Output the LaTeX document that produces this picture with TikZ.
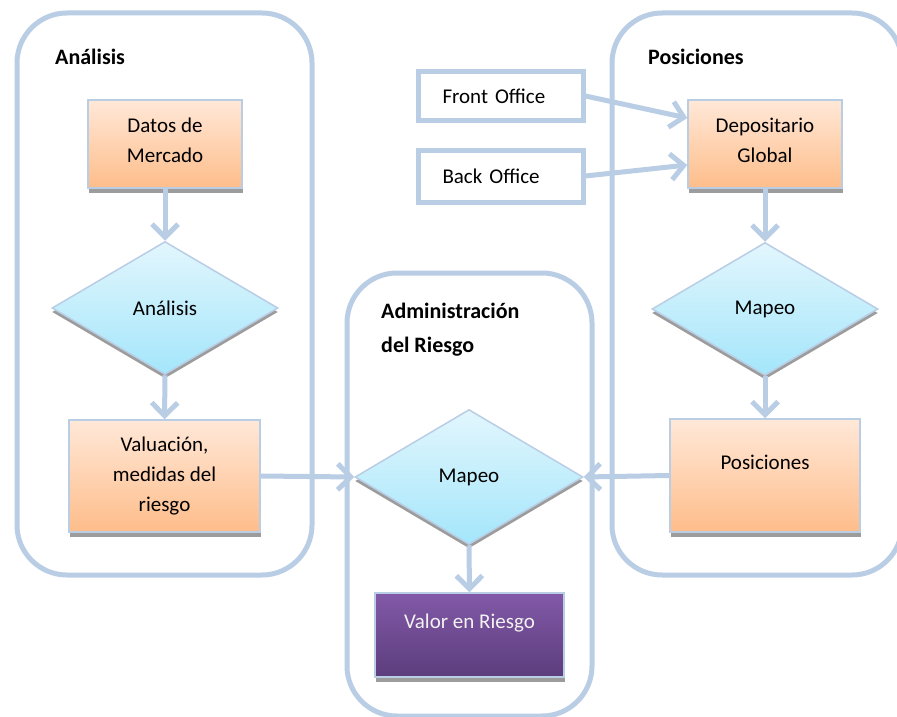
\documentclass[tikz,border=0pt]{standalone}
\usepackage{fontspec}
\setmainfont{Carlito}
\usetikzlibrary{shapes.geometric,arrows.meta,shadows,calc}
\definecolor{frame}{HTML}{B9CDE5}
\definecolor{peachtop}{HTML}{FFE8D8}
\definecolor{peachbot}{HTML}{FEBD8A}
\definecolor{cyantop}{HTML}{E2F6FD}
\definecolor{cyanbot}{HTML}{A4E6FB}
\definecolor{purptop}{HTML}{8259A8}
\definecolor{purpbot}{HTML}{5C3D7C}
\definecolor{shadowgray}{HTML}{9C9C9C}
\begin{document}
\begin{tikzpicture}[x=1pt,y=-1pt,
  font=\fontsize{21}{30}\selectfont,
  container/.style={draw=frame, line width=5pt, rounded corners=50pt},
  procbox/.style={rectangle, draw=frame, line width=1.5pt, top color=peachtop, bottom color=peachbot,
    drop shadow={shadow xshift=1pt, shadow yshift=-5pt, fill=shadowgray, opacity=1},
    inner sep=0pt, align=center},
  dia/.style={diamond, draw=frame, line width=1.5pt, top color=cyantop, bottom color=cyanbot,
    drop shadow={shadow xshift=0pt, shadow yshift=-4pt, fill=shadowgray, opacity=1},
    inner sep=0pt},
  srcbox/.style={rectangle, draw=frame, line width=5pt, fill=white, inner sep=0pt,
    text width=140pt, align=left},
  flow/.style={draw=frame, line width=5pt, -{Straight Barb[length=13pt,width=26pt]}},
  title/.style={font=\fontsize{22}{34}\selectfont\bfseries, anchor=west, align=left, inner sep=0pt}
]
\useasboundingbox (0,0) rectangle (897,717);

% containers
\draw[container] (17,13) rectangle (312,575);
\draw[container] (347,273) rectangle (592,716);
\draw[container] (612,13) rectangle (902,575);

% titles
\node[title] (tan) at (55,57) {Análisis};
\node[title] (tpos) at (648,57) {Posiciones};
\node[title] (tadm) at (381,330) {Administración\\del Riesgo};

% left column
\node[procbox, minimum width=154pt, minimum height=88pt] (dm) at (165,144) {Datos de\\Mercado\\[-22pt]\mbox{}};
\node[dia, minimum width=226pt, minimum height=133pt] (la) at (165,308) {Análisis};
\node[procbox, minimum width=191pt, minimum height=112pt] (val) at (164.5,476) {Valuación,\\medidas del\\riesgo};

% middle column
\node[dia, minimum width=228pt, minimum height=135pt] (mm) at (469,477) {Mapeo};
\node[rectangle, draw=frame, line width=1.5pt, top color=purptop, bottom color=purpbot,
  drop shadow={shadow xshift=1pt, shadow yshift=-5pt, fill=shadowgray, opacity=1},
  inner sep=0pt, align=center, text=white!95!black,
  minimum width=189pt, minimum height=84pt] (var) at (469.5,635) {Valor en Riesgo\\[-12pt]\strut};

% right column
\node[srcbox, minimum width=165pt, minimum height=48pt] (fo) at (500.5,96) {\hspace*{12pt}Front Office};
\node[srcbox, minimum width=165pt, minimum height=52pt] (bo) at (500.5,176) {\hspace*{12pt}Back Office};
\node[procbox, minimum width=154pt, minimum height=88pt] (dg) at (765,144) {Depositario\\Global\\[-22pt]\mbox{}};
\node[dia, minimum width=226pt, minimum height=133pt] (rm) at (765,309) {Mapeo};
\node[procbox, minimum width=190pt, minimum height=113pt] (pos) at (765,475.5) {Posiciones\\[-12pt]\strut};

% connectors
\draw[flow] (dm.south) -- (la.north);
\draw[flow] (la.south) -- (val.north);
\draw[flow] (val.east) -- (mm.west);
\draw[flow] (mm.south) -- (var.north);
\draw[flow] (fo.east) -- ($(dg.west)+(0,-26)$);
\draw[flow] (bo.east) -- ($(dg.west)+(0,21)$);
\draw[flow] (dg.south) -- (rm.north);
\draw[flow] (rm.south) -- (pos.north);
\draw[flow] (pos.west) -- (mm.east);
\end{tikzpicture}
\end{document}
